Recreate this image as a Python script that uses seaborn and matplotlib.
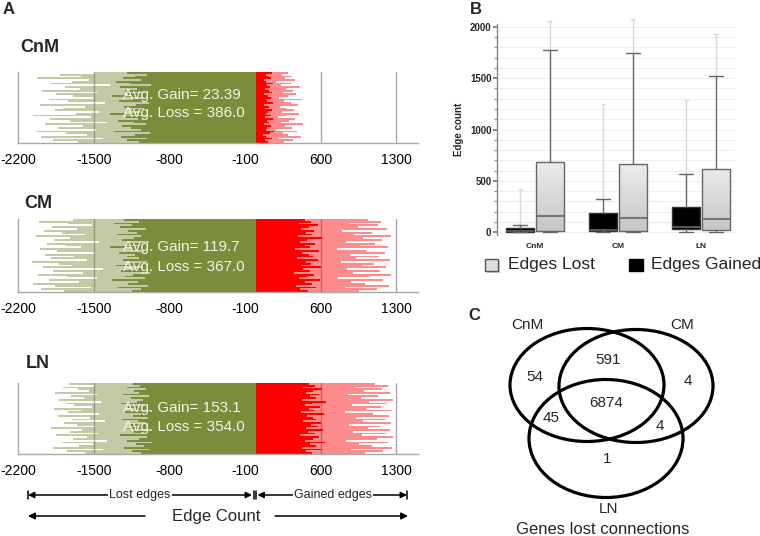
import numpy as np
import pandas as pd
import matplotlib
matplotlib.use('Agg')
import matplotlib.pyplot as plt
import seaborn as sns
from matplotlib.patches import Ellipse, Rectangle
from matplotlib.colors import LinearSegmentedColormap

sns.set_theme(style='white')
plt.rcParams['font.family'] = ['Liberation Sans', 'DejaVu Sans']

# ---------------- data ----------------
conditions = ['CnM', 'CM', 'LN']
avg_gain = [23.39, 119.7, 153.1]
avg_loss = [386.0, 367.0, 354.0]
ticks_a = [-2200, -1500, -800, -100, 600, 1300]

cnm_loss_core = [-1080, -1190, -1010, -1250, -1120, -980, -1310, -1060, -1160, -1240,
                 -1020, -1130, -1280, -1090, -1200, -1000, -1350, -1070, -1150, -1040,
                 -1220, -1110, -990, -1270, -1140, -1050, -1330, -1180, -1030, -1210,
                 -1100, -1260, -970, -1170, -1300, -1060, -1230, -1120, -1010, -1190]
cnm_loss_reach = [-1650, -1880, -1420, -1990, -1560, -1760, -2040, -1480, -1830, -1600,
                  -1950, -1380, -1720, -1910, -1530, -2060, -1670, -1450, -1860, -1790,
                  -1580, -2000, -1400, -1740, -1920, -1510, -1690, -1850, -1470, -1980,
                  -1630, -1770, -1350, -1900, -1700, -1550, -2030, -1620, -1810, -1490]
cnm_gain_core = [110, 80, 150, 95, 65, 130, 165, 90, 105, 140,
                 75, 120, 100, 155, 85, 135, 95, 115, 145, 80,
                 125, 70, 160, 100, 90, 140, 110, 75, 150, 120,
                 85, 130, 105, 160, 95, 70, 135, 115, 90, 145]
cnm_gain_reach = [260, 340, 210, 420, 300, 250, 380, 190, 330, 270,
                  440, 230, 310, 360, 200, 290, 400, 240, 350, 280,
                  220, 390, 320, 260, 430, 210, 300, 370, 250, 340,
                  280, 410, 230, 320, 190, 360, 270, 330, 240, 300]

cm_loss_core = [-1150, -1060, -1280, -1000, -1180, -1090, -1330, -1030, -1210, -1140,
                -980, -1250, -1110, -1050, -1300, -1170, -1010, -1230, -1080, -1190,
                -1120, -1270, -1040, -1160, -1350, -1070, -1200, -990, -1240, -1130,
                -1060, -1290, -1100, -1180, -1020, -1260, -1150, -1310, -1080, -1220]
cm_loss_reach = [-1780, -1990, -1530, -1860, -2060, -1640, -1920, -1470, -1750, -2020,
                 -1600, -1880, -1420, -1970, -1700, -1820, -2070, -1560, -1900, -1680,
                 -1950, -1500, -1840, -2000, -1620, -1760, -1930, -1450, -1870, -1720,
                 -2040, -1580, -1800, -1960, -1660, -1890, -1520, -1740, -2010, -1690]
cm_gain_core = [480, 410, 560, 370, 520, 450, 590, 400, 470, 540,
                350, 500, 440, 600, 420, 510, 460, 570, 380, 530,
                490, 430, 580, 360, 500, 450, 550, 410, 470, 610,
                390, 520, 460, 540, 420, 490, 570, 400, 510, 450]
cm_gain_reach = [950, 1120, 820, 1230, 1010, 880, 1180, 760, 1060, 1250,
                 900, 1150, 840, 1200, 980, 1090, 790, 1240, 930, 1140,
                 870, 1190, 1020, 750, 1220, 960, 1100, 830, 1170, 990,
                 1250, 910, 1070, 800, 1210, 940, 1130, 860, 1160, 1040]

ln_loss_core = [-1060, -1150, -990, -1220, -1040, -1110, -960, -1190, -1080, -1010,
                -1260, -1050, -1130, -980, -1200, -1070, -1170, -1020, -1090, -1240,
                -1000, -1140, -1060, -1210, -970, -1120, -1180, -1030, -1250, -1100,
                -1050, -1160, -990, -1230, -1080, -1130, -1020, -1190, -1070, -1140]
ln_loss_reach = [-1580, -1750, -1420, -1880, -1640, -1510, -1800, -1380, -1690, -1560,
                 -1850, -1460, -1720, -1610, -1900, -1490, -1660, -1780, -1400, -1700,
                 -1540, -1830, -1450, -1740, -1620, -1870, -1520, -1680, -1760, -1430,
                 -1820, -1590, -1710, -1470, -1860, -1550, -1650, -1790, -1500, -1730]
ln_gain_core = [520, 460, 600, 430, 560, 500, 640, 450, 530, 580,
                410, 550, 480, 620, 460, 570, 510, 600, 440, 560,
                530, 470, 630, 420, 540, 490, 590, 450, 520, 650,
                430, 560, 500, 580, 460, 530, 610, 440, 550, 490]
ln_gain_reach = [1010, 1180, 880, 1260, 1070, 950, 1220, 830, 1120, 1270,
                 980, 1200, 900, 1240, 1040, 1150, 860, 1250, 990, 1190,
                 930, 1230, 1080, 820, 1260, 1020, 1160, 890, 1210, 1050,
                 1270, 970, 1130, 850, 1240, 1000, 1170, 910, 1220, 1100]

loss_core = [cnm_loss_core, cm_loss_core, ln_loss_core]
loss_reach = [cnm_loss_reach, cm_loss_reach, ln_loss_reach]
gain_core = [cnm_gain_core, cm_gain_core, ln_gain_core]
gain_reach = [cnm_gain_reach, cm_gain_reach, ln_gain_reach]

# panel B box statistics
box_groups = ['CnM', 'CM', 'LN']
gained_whislo = [0, 0, 0]
gained_q1 = [5, 8, 28]
gained_med = [15, 25, 50]
gained_q3 = [38, 190, 248]
gained_whishi = [68, 324, 567]
gained_max = [425, 1250, 1290]
lost_whislo = [5, 5, 5]
lost_q1 = [15, 15, 20]
lost_med = [160, 140, 125]
lost_q3 = [685, 665, 615]
lost_whishi = [1775, 1745, 1520]
lost_max = [2060, 2075, 1925]

# panel C venn counts
venn_labels = ['CnM', 'CM', 'LN']
venn_counts = {'CnM only': 54, 'CnM&CM': 591, 'CM only': 4, 'all': 6874,
               'CnM&LN': 45, 'CM&LN': 4, 'LN only': 1}

# ---------------- figure ----------------
W, H = 760, 536
fig = plt.figure(figsize=(7.6, 5.36), dpi=100)


def px_axes(x0, y0, x1, y1):
    return fig.add_axes([x0 / W, 1 - y1 / H, (x1 - x0) / W, (y1 - y0) / H])


GREEN = '#7b8d3b'
RED = '#ff0000'
GRID = '#a8a8a8'
panel_a_boxes = [(72, 143), (219, 292), (383, 454)]
text_rows = [(0.68, 0.42), (0.62, 0.34), (0.65, 0.38)]

for i, cond in enumerate(conditions):
    y0, y1 = panel_a_boxes[i]
    ax = px_axes(18.3, y0, 418, y1)
    nr = len(loss_reach[i])
    rows = np.arange(nr) + 0.5
    for t in ticks_a[1:]:
        ax.axvline(t, color=GRID, lw=1, zorder=0)
    df = pd.DataFrame({'row': rows,
                       'loss_reach': loss_reach[i], 'gain_reach': gain_reach[i],
                       'loss_core': loss_core[i], 'gain_core': gain_core[i]})
    for side, colr in (('loss', GREEN), ('gain', RED)):
        sns.barplot(data=df, x=side + '_reach', y='row', orient='y', native_scale=True,
                    color=colr, saturation=1, alpha=0.45, width=1.0, antialiased=False,
                    errorbar=None, linewidth=0, edgecolor='none', ax=ax)
        sns.barplot(data=df, x=side + '_core', y='row', orient='y', native_scale=True,
                    color=colr, saturation=1, alpha=1, width=1.0, antialiased=False,
                    errorbar=None, linewidth=0, edgecolor='none', ax=ax)
    ax.set_xlim(-2200, 1500)
    ax.set_ylim(0, nr)
    ax.set_xlabel('')
    ax.set_ylabel('')
    ax.set_yticks([])
    ax.set_xticks(ticks_a)
    ax.set_xticklabels([str(t) for t in ticks_a], fontsize=10)
    ax.tick_params(axis='x', length=0, pad=7, colors='black')
    for s in ('top', 'right'):
        ax.spines[s].set_visible(False)
    for s in ('left', 'bottom'):
        ax.spines[s].set_color(GRID)
        ax.spines[s].set_linewidth(1)
    ax.patch.set_alpha(0)
    tx = -1230
    ax.text(tx, text_rows[i][0], f'Avg. Gain= {avg_gain[i]}',
            transform=ax.get_xaxis_transform(), color='#f4f4ea', fontsize=11,
            va='center', ha='left', zorder=5)
    ax.text(tx, text_rows[i][1], f'Avg. Loss = {avg_loss[i]:.1f}',
            transform=ax.get_xaxis_transform(), color='#f4f4ea', fontsize=11,
            va='center', ha='left', zorder=5)

# ---------------- panel B ----------------
axb = px_axes(497, 24.13, 735, 234.87)
centers = np.arange(len(box_groups))
off = 0.18
pos_g = centers - off
pos_l = centers + off
stats_g = [dict(whislo=gained_whislo[k], q1=gained_q1[k], med=gained_med[k],
                q3=gained_q3[k], whishi=gained_whishi[k], fliers=[]) for k in range(3)]
stats_l = [dict(whislo=lost_whislo[k], q1=lost_q1[k], med=lost_med[k],
                q3=lost_q3[k], whishi=lost_whishi[k], fliers=[]) for k in range(3)]

axb.vlines(pos_g, gained_whishi, gained_max, color='#d9d9d9', lw=1, zorder=1, clip_on=False)
axb.vlines(pos_l, lost_whishi, lost_max, color='#d9d9d9', lw=1, zorder=1, clip_on=False)
axb.hlines(gained_max, pos_g - 0.03, pos_g + 0.03, color='#d9d9d9', lw=1, clip_on=False)
axb.hlines(lost_max, pos_l - 0.03, pos_l + 0.03, color='#d9d9d9', lw=1, clip_on=False)

bg = axb.bxp(stats_g, positions=pos_g, widths=0.34, patch_artist=True, showfliers=False,
             manage_ticks=False,
             boxprops=dict(facecolor='black', edgecolor='#333333', lw=1),
             medianprops=dict(color='#555555', lw=1.5),
             whiskerprops=dict(color='#666666', lw=1),
             capprops=dict(color='#666666', lw=1))
bl = axb.bxp(stats_l, positions=pos_l, widths=0.34, patch_artist=True, showfliers=False,
             manage_ticks=False,
             boxprops=dict(facecolor='none', edgecolor='#666666', lw=1, zorder=3),
             medianprops=dict(color='#777777', lw=1.5, zorder=4),
             whiskerprops=dict(color='#666666', lw=1),
             capprops=dict(color='#666666', lw=1))
grad = np.linspace(0, 1, 64).reshape(-1, 1)
gcm = LinearSegmentedColormap.from_list('g', ['#c6c6c6', '#ececec'])
for k, patch in enumerate(bl['boxes']):
    im = axb.imshow(grad, extent=[pos_l[k] - 0.17, pos_l[k] + 0.17, lost_q1[k], lost_q3[k]],
                    origin='lower', aspect='auto', cmap=gcm, zorder=2)
    im.set_clip_path(patch)

axb.set_xlim(-0.458, 2.41)
axb.set_ylim(-25, 2025)
axb.set_yticks([0, 500, 1000, 1500, 2000])
axb.set_yticks(np.arange(0, 2001, 100), minor=True)
axb.set_yticklabels(['0', '500', '1000', '1500', '2000'], fontsize=7, fontweight='bold')
axb.set_xticks(centers)
axb.set_xticklabels(box_groups, fontsize=6, fontweight='bold')
axb.tick_params(axis='x', length=0, pad=6)
axb.tick_params(axis='y', which='major', length=3, color='#777777', pad=1, left=True)
axb.tick_params(axis='y', which='minor', length=2, color='#999999', left=True)
axb.yaxis.grid(True, which='both', color='#eeeeee', lw=0.8)
axb.set_axisbelow(True)
for s in ('top', 'right', 'bottom'):
    axb.spines[s].set_visible(False)
axb.spines['left'].set_color('#888888')
axb.spines['left'].set_linewidth(1)
axb.set_ylabel('Edge count', fontsize=7, fontweight='bold', labelpad=4)
axb.patch.set_alpha(0)

# ---------------- overlay (labels, venn, arrows) ----------------
ov = fig.add_axes([0, 0, 1, 1])
ov.set_xlim(0, W)
ov.set_ylim(H, 0)
ov.axis('off')
ov.patch.set_alpha(0)

ov.text(9, 9, 'A', fontsize=12, fontweight='bold', ha='center', va='center')
ov.text(476, 10, 'B', fontsize=12, fontweight='bold', ha='center', va='center')
ov.text(474, 316, 'C', fontsize=12, fontweight='bold', ha='center', va='center')
title_pos = [(20, 52), (24, 208), (26, 368)]
for cond, (x, y) in zip(conditions, title_pos):
    ov.text(x, y, cond, fontsize=13, fontweight='bold', ha='left', va='baseline')

# legend of panel B
ov.add_patch(Rectangle((486.5, 260.5), 13, 12, facecolor='#aaaaaa', edgecolor='none', alpha=0.6))
ov.add_patch(Rectangle((485, 258.5), 13, 12, facecolor='#dedede', edgecolor='#555555', lw=1))
ov.text(508, 265, 'Edges Lost', fontsize=12.5, ha='left', va='center')
ov.add_patch(Rectangle((629, 258.5), 14, 12.5, facecolor='black', edgecolor='black', lw=1))
ov.text(651, 265, 'Edges Gained', fontsize=12.5, ha='left', va='center')

# venn
ell = [((587, 385), 154, 113), ((636, 386), 154, 113), ((606, 438.5), 154, 118)]
for (c, w, h) in ell:
    ov.add_patch(Ellipse(c, w, h, fill=False, lw=2.3, ec='black'))
ov.text(527, 325, venn_labels[0], fontsize=11, ha='center', va='center')
ov.text(682, 325, venn_labels[1], fontsize=11, ha='center', va='center')
ov.text(608, 509, venn_labels[2], fontsize=11, ha='center', va='center')
count_pos = {'CnM only': (535, 377), 'CnM&CM': (608, 360), 'CM only': (688, 381),
             'all': (606, 403), 'CnM&LN': (551, 418), 'CM&LN': (660, 426), 'LN only': (607, 459)}
for key, val in venn_counts.items():
    x, y = count_pos[key]
    ov.text(x, y, str(val), fontsize=11, ha='center', va='center')
ov.text(603, 530, 'Genes lost connections', fontsize=12, ha='center', va='center')

# bottom arrows of panel A
ay = 495
ap = dict(arrowstyle='<|-|>', mutation_scale=9, lw=1.1, color='black', shrinkA=0, shrinkB=0)
ov.annotate('', xy=(28, ay), xytext=(252, ay), arrowprops=ap)
ov.annotate('', xy=(257.5, ay), xytext=(407, ay), arrowprops=ap)
for xb in (28, 253.5, 256, 407):
    ov.plot([xb, xb], [ay - 4, ay + 4], color='black', lw=1.1)
ov.text(140, ay, 'Lost edges', fontsize=9, ha='center', va='center',
        bbox=dict(facecolor='white', edgecolor='none', pad=1))
ov.text(333, ay, 'Gained edges', fontsize=9, ha='center', va='center',
        bbox=dict(facecolor='white', edgecolor='none', pad=1))
ey = 516
ap2 = dict(arrowstyle='-|>', mutation_scale=10, lw=1.1, color='black', shrinkA=0, shrinkB=0)
ov.annotate('', xy=(28, ey), xytext=(145, ey), arrowprops=ap2)
ov.annotate('', xy=(408, ey), xytext=(275, ey), arrowprops=ap2)
ov.text(216, ey, 'Edge Count', fontsize=12, ha='center', va='center')

fig.savefig('out.png', dpi=100)
